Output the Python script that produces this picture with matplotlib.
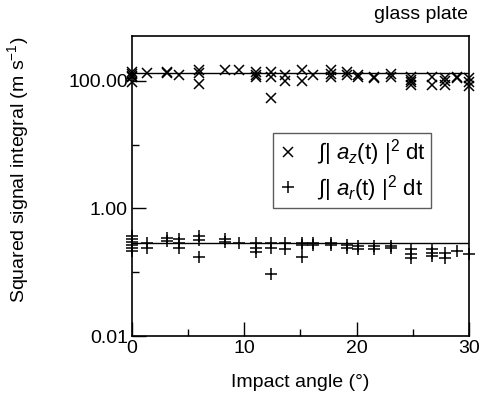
import numpy as np
import matplotlib
matplotlib.use("Agg")
import matplotlib.pyplot as plt
from matplotlib.ticker import FixedLocator, NullFormatter, FixedFormatter

plt.rcParams['font.family'] = ['Liberation Sans', 'DejaVu Sans']
plt.rcParams['mathtext.fontset'] = 'custom'
plt.rcParams['mathtext.rm'] = 'Liberation Sans'
plt.rcParams['mathtext.it'] = 'Liberation Sans:italic'
plt.rcParams['font.size'] = 14

# angle clusters (deg) and repeated trials
angles = [0.0, 1.3, 3.1, 4.2, 6.0, 8.3, 9.5, 11.0, 12.4, 13.6, 15.1, 16.1,
          17.7, 19.1, 20.1, 21.5, 23.1, 24.8, 26.7, 27.9, 28.9, 30.0]

az_vals = [[140, 130, 120, 115, 95], [131], [140, 135], [124], [150, 135, 90],
           [148], [148], [140, 125, 115], [139, 117, 54], [124, 98], [148, 98],
           [124], [148, 130, 117], [139, 124], [124, 115], [117, 110],
           [130, 115], [117, 105, 95, 87], [117, 87], [110, 100, 87],
           [117, 110], [110, 95, 84]]

ar_vals = [[0.37, 0.33, 0.30, 0.27, 0.24, 0.215], [0.29, 0.24], [0.34, 0.31],
           [0.33, 0.29, 0.24], [0.37, 0.32, 0.176], [0.33, 0.30], [0.29],
           [0.29, 0.24, 0.21], [0.29, 0.24, 0.093], [0.29, 0.23],
           [0.29, 0.27, 0.176], [0.29, 0.27], [0.29, 0.27], [0.27, 0.24],
           [0.26, 0.23], [0.26, 0.23], [0.26, 0.24], [0.228, 0.19, 0.17],
           [0.23, 0.20, 0.18], [0.20, 0.17], [0.215], [0.19]]

fit_az = 134.0
fit_ar = 0.291

ytick_vals = [0.01, 1.0, 100.0]
ytick_labels = ['0.01', '1.00', '100.00']
yminor_vals = [0.1, 10.0]
xtick_vals = [0, 10, 20, 30]
xminor_vals = [5, 15, 25]

fig = plt.figure(figsize=(4.84, 3.94), dpi=100)
ax = fig.add_axes([0.2727, 0.1472, 0.6963, 0.7614])

xz = [a for a, vs in zip(angles, az_vals) for _ in vs]
yz = [v for vs in az_vals for v in vs]
xr = [a for a, vs in zip(angles, ar_vals) for _ in vs]
yr = [v for vs in ar_vals for v in vs]

lz, = ax.plot(xz, yz, ls='none', marker='x', ms=7, mew=1.1, color='black', clip_on=False)
lr, = ax.plot(xr, yr, ls='none', marker='+', ms=9, mew=1.1, color='black', clip_on=False)
ax.plot([0, 30], [fit_az, fit_az], color='black', lw=1)
ax.plot([0, 30], [fit_ar, fit_ar], color='black', lw=1)

ax.set_yscale('log')
ax.set_xlim(0, 30)
ax.set_ylim(0.01, 505)
ax.yaxis.set_major_locator(FixedLocator(ytick_vals))
ax.yaxis.set_major_formatter(FixedFormatter(ytick_labels))
ax.yaxis.set_minor_locator(FixedLocator(yminor_vals))
ax.yaxis.set_minor_formatter(NullFormatter())
ax.xaxis.set_major_locator(FixedLocator(xtick_vals))
ax.xaxis.set_minor_locator(FixedLocator(xminor_vals))

ax.tick_params(which='major', direction='in', length=10, width=1, labelsize=14, pad=3)
ax.tick_params(which='minor', direction='in', length=5, width=1)
for s in ax.spines.values():
    s.set_linewidth(1.2)

ax.set_xlabel('Impact angle (°)', fontsize=14, labelpad=12)
ax.set_ylabel('Squared signal integral (m s$^{-1}$)', fontsize=14)
ax.yaxis.set_label_coords(-0.300, 0.555)

fig.text(0.966, 0.962, 'glass plate', ha='right', va='center', fontsize=14)

leg = ax.legend([lz, lr],
                [r'$\int$| $a_z$(t) |$^2$ dt', r'$\int$| $a_r$(t) |$^2$ dt'],
                loc='upper left', bbox_to_anchor=(0.418, 0.677), borderaxespad=0,
                frameon=True, fancybox=False, edgecolor='#333333',
                fontsize=16, handlelength=1.0, handletextpad=0.8,
                borderpad=0.2, labelspacing=0.2)
leg.get_frame().set_linewidth(1.0)

fig.savefig('out.png', dpi=100)
